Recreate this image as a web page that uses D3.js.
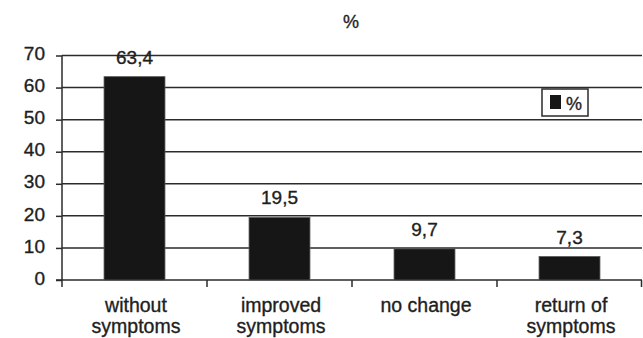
<!DOCTYPE html>
<html>
<head>
<meta charset="utf-8">
<script src="https://cdn.jsdelivr.net/npm/d3@7"></script>
<style>
  html, body { margin: 0; padding: 0; background: #fff; }
  svg text { font-family: "Liberation Sans", Arial, Helvetica, sans-serif; fill: #1e1e1e; stroke: #1e1e1e; stroke-width: 0.35px; }
</style>
</head>
<body>
<svg id="chart" width="643" height="338"></svg>
<script>
// Outcome categories and their share (%)
const categories = [["without", "symptoms"], ["improved", "symptoms"], ["no change"], ["return of", "symptoms"]];
const values = [63.4, 19.5, 9.7, 7.3];
const valueLabels = ["63,4", "19,5", "9,7", "7,3"];
const yTicks = [0, 10, 20, 30, 40, 50, 60, 70];
const seriesName = "%";

const svg = d3.select("#chart");
const margin = { left: 62, right: 1, top: 55.5, bottom: 58 };
const W = 643, H = 338;
const x0 = margin.left, x1 = W - margin.right;
const y0 = H - margin.bottom, y1 = margin.top;
const ink = "#2b2b2b";

const x = d3.scaleBand().domain(d3.range(values.length)).range([x0, x1]).paddingInner(0.58).paddingOuter(0.29);
const xb = d3.scaleBand().domain(d3.range(values.length)).range([x0, x1]);
const y = d3.scaleLinear().domain([0, 70]).range([y0, y1]);

// horizontal gridlines
svg.append("g").selectAll("line").data(yTicks.filter(d => d > 0)).join("line")
  .attr("x1", x0).attr("x2", x1)
  .attr("y1", d => y(d)).attr("y2", d => y(d))
  .attr("stroke", ink).attr("stroke-width", 1.5);

// y axis
const yAxis = svg.append("g").attr("transform", `translate(${x0},0)`)
  .call(d3.axisLeft(y).tickValues(yTicks).tickSize(6).tickPadding(11));
yAxis.select(".domain").remove();
yAxis.selectAll(".tick line").attr("stroke", ink).attr("stroke-width", 1.5);
yAxis.selectAll(".tick text").attr("font-size", 19).attr("fill", "#1e1e1e").attr("dy", "0.22em")
  .style("font-family", "'Liberation Sans', Arial, sans-serif");
svg.append("line").attr("x1", x0).attr("x2", x0).attr("y1", y1).attr("y2", y0 + 7)
  .attr("stroke", ink).attr("stroke-width", 1.5);

// x axis baseline and category separators
svg.append("line").attr("x1", x0 - 6).attr("x2", x1).attr("y1", y0).attr("y2", y0)
  .attr("stroke", ink).attr("stroke-width", 1.5);
svg.append("g").selectAll("line").data(d3.range(1, values.length + 1)).join("line")
  .attr("x1", i => i < values.length ? xb(i) : x1 - 0.5).attr("x2", i => i < values.length ? xb(i) : x1 - 0.5)
  .attr("y1", y0).attr("y2", y0 + 7)
  .attr("stroke", ink).attr("stroke-width", 1.5);

// bars
svg.append("g").selectAll("rect").data(values).join("rect")
  .attr("x", (d, i) => x(i)).attr("width", x.bandwidth())
  .attr("y", d => y(d)).attr("height", d => y(0) - y(d))
  .attr("fill", "#161616").attr("stroke", "#555").attr("stroke-width", 0.8);

// value labels
svg.append("g").selectAll("text").data(values).join("text")
  .attr("x", (d, i) => x(i) + x.bandwidth() / 2)
  .attr("y", d => y(d) - 13)
  .attr("text-anchor", "middle").attr("font-size", 19)
  .text((d, i) => valueLabels[i]);

// category labels
const cat = svg.append("g").selectAll("text").data(categories).join("text")
  .attr("x", (d, i) => xb(i) + xb.bandwidth() / 2 + 1.5)
  .attr("y", y0 + 32)
  .attr("text-anchor", "middle").attr("font-size", 19.5);
cat.selectAll("tspan").data(d => d).join("tspan")
  .attr("x", function () { return d3.select(this.parentNode).attr("x"); })
  .attr("dy", (d, j) => j === 0 ? 0 : 21)
  .text(d => d);

// title
svg.append("text").attr("x", 351).attr("y", 28).attr("text-anchor", "middle")
  .attr("font-size", 18).text(seriesName);

// legend
const lg = svg.append("g").attr("transform", "translate(542,89)");
lg.append("rect").attr("width", 46).attr("height", 27).attr("fill", "#fff")
  .attr("stroke", ink).attr("stroke-width", 1.5);
lg.append("rect").attr("x", 8).attr("y", 6).attr("width", 11).attr("height", 14).attr("fill", "#161616");
lg.append("text").attr("x", 24).attr("y", 21).attr("font-size", 18).text(seriesName);
</script>
</body>
</html>
